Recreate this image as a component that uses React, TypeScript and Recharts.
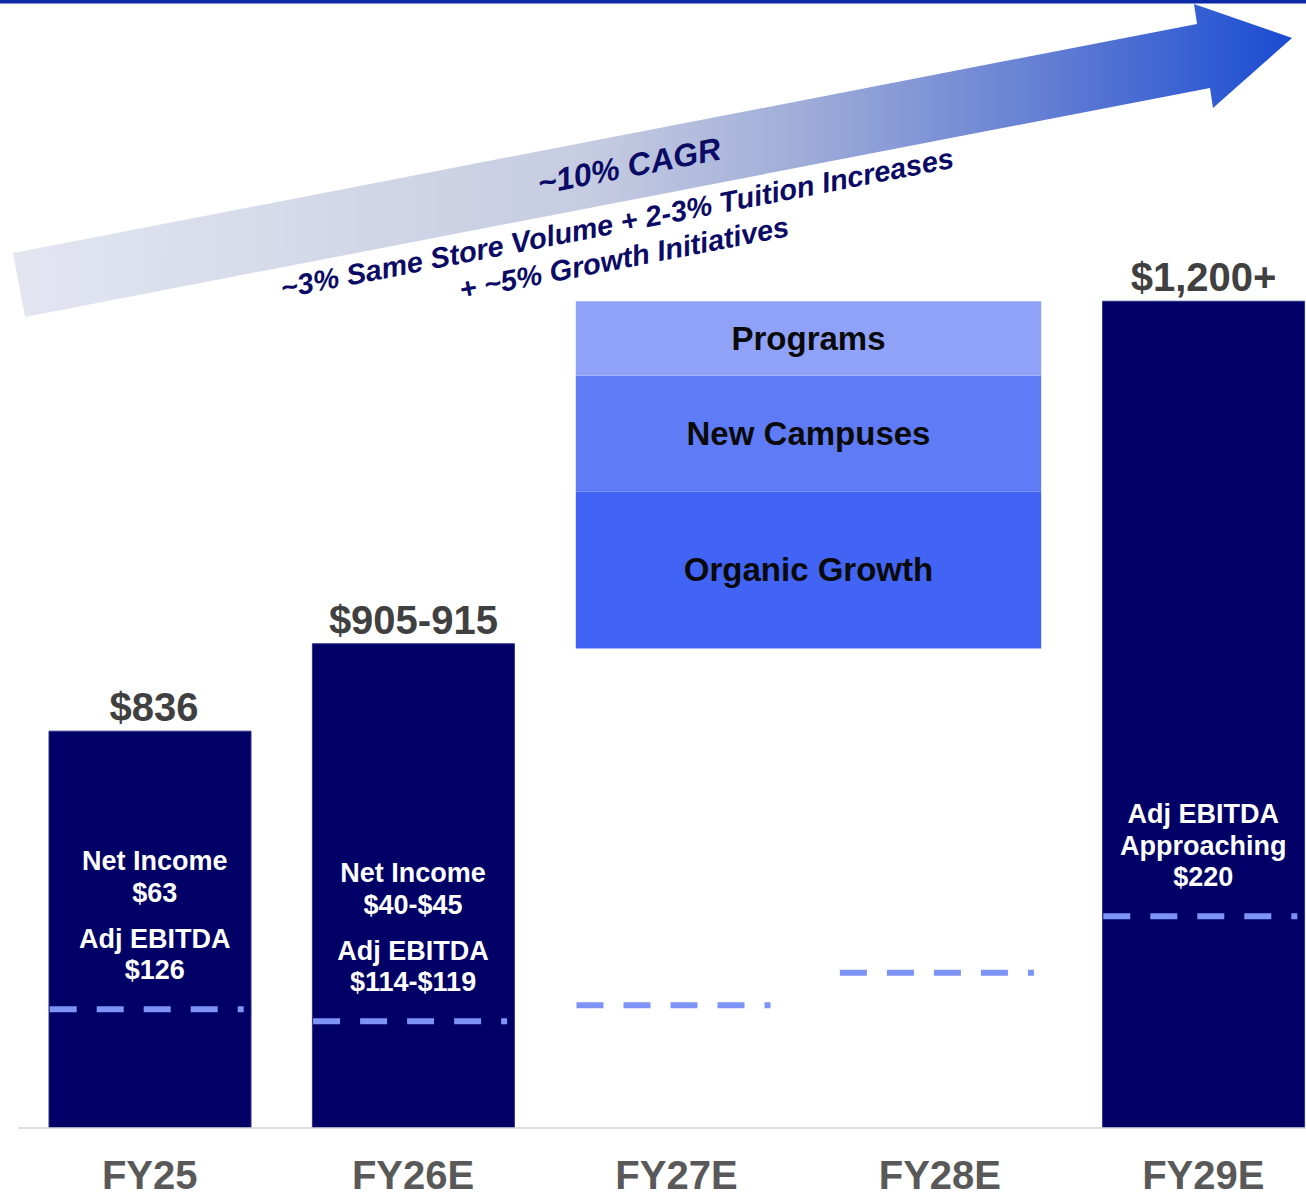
import {
  Bar,
  ComposedChart,
  Customized,
  LabelList,
  Line,
  XAxis,
  YAxis,
} from "recharts";

const categories = ["FY25", "FY26E", "FY27E", "FY28E", "FY29E"];
const revenue = [836, 910, null, null, 1200];
const revenueLabels = ["$836", "$905-915", "", "", "$1,200+"];

// FY27E-FY28E bridge (floating stack)
const bridgeBase = [null, null, 906, null, null];
const organicGrowth = [null, null, 133, null, null];
const newCampuses = [null, null, 98, null, null];
const programs = [null, null, 63, null, null];

// adj EBITDA marker levels (dashed lines)
const adjEbitda = [126, 114, 130, 163, 220];
const barNotes = [
  [["Net Income", "$63"], ["Adj EBITDA", "$126"]],
  [["Net Income", "$40-$45"], ["Adj EBITDA", "$114-$119"]],
  [],
  [],
  [["Adj EBITDA", "Approaching", "$220"]],
];

const data = categories.map((name, i) => ({
  name,
  revenue: revenue[i],
  label: revenueLabels[i],
  base: bridgeBase[i],
  organic: organicGrowth[i],
  campuses: newCampuses[i],
  programs: programs[i],
  ebitda: adjEbitda[i],
}));

const FONT = '"Liberation Sans", Arial, sans-serif';
const W = 1340;
const H = 1197;
const M = { top: 6, right: 5, left: 18, bottom: 9 };
const BAND = (W - M.left - M.right) / categories.length;
const BAR = 202;

const segment = (title: string, fill: string) => (p: any) => {
  if (!p.height || !p.width) return <g />;
  const w = p.width + BAND;
  return (
    <g>
      <rect x={p.x} y={p.y} width={w} height={p.height} fill={fill} />
      <text
        x={p.x + w / 2}
        y={p.y + p.height / 2}
        textAnchor="middle"
        dominantBaseline="central"
        fontFamily={FONT}
        fontWeight="bold"
        fontSize={33}
        fill="#0a0a0a"
      >
        {title}
      </text>
    </g>
  );
};

const EbitdaDash = (p: any) => {
  const { cx, cy, index } = p;
  if (cx == null || cy == null) return <g key={index} />;
  const groups = barNotes[index] || [];
  const rows: { t: string; y: number }[] = [];
  let y = cy - 39;
  for (let g = groups.length - 1; g >= 0; g--) {
    const lines = groups[g];
    for (let l = lines.length - 1; l >= 0; l--) {
      rows.push({ t: lines[l], y });
      y -= 31.5;
    }
    y -= 14.5;
  }
  return (
    <g key={index}>
      <line
        x1={cx - 100}
        x2={cx + 94}
        y1={cy}
        y2={cy}
        stroke="#7d93f5"
        strokeWidth={6}
        strokeDasharray="27 20"
      />
      {rows.map((r) => (
        <text
          key={r.t}
          x={cx + (index === 0 ? 5 : 0)}
          y={r.y}
          textAnchor="middle"
          dominantBaseline="central"
          fontFamily={FONT}
          fontWeight="bold"
          fontSize={27}
          fill="#ffffff"
        >
          {r.t}
        </text>
      ))}
    </g>
  );
};

const ArrowDecor = () => {
  const navy = "#0b0b66";
  return (
    <g>
      <defs>
        <linearGradient id="cagrGrad" gradientUnits="userSpaceOnUse" x1={12} y1={0} x2={1292} y2={0}>
          <stop offset="0" stopColor="#e3e6f1" />
          <stop offset="0.45" stopColor="#c6cce1" />
          <stop offset="0.62" stopColor="#9eacd8" />
          <stop offset="0.82" stopColor="#5f7bd3" />
          <stop offset="1" stopColor="#1a4cd2" />
        </linearGradient>
      </defs>
      <rect x={0} y={0} width={1306} height={3.5} fill="#0d2aa6" />
      <polygon
        points="13,253 1197,24 1194,4 1292,38 1213,108 1210,88 25,317"
        fill="url(#cagrGrad)"
      />
      <text
        x={629}
        y={166}
        textAnchor="middle"
        dominantBaseline="central"
        transform="rotate(-11 629 166)"
        fontFamily={FONT}
        fontWeight="bold"
        fontStyle="italic"
        fontSize={32}
        fill={navy}
      >
        ~10% CAGR
      </text>
      <text
        x={617}
        y={223}
        textAnchor="middle"
        dominantBaseline="central"
        transform="rotate(-11 617 223)"
        fontFamily={FONT}
        fontWeight="bold"
        fontStyle="italic"
        fontSize={29}
        fill={navy}
      >
        ~3% Same Store Volume + 2-3% Tuition Increases
      </text>
      <text
        x={624}
        y={258}
        textAnchor="middle"
        dominantBaseline="central"
        transform="rotate(-11 624 258)"
        fontFamily={FONT}
        fontWeight="bold"
        fontStyle="italic"
        fontSize={29}
        fill={navy}
      >
        + ~5% Growth Initiatives
      </text>
    </g>
  );
};

const Tick = (p: any) => (
  <text
    x={p.x}
    y={1189}
    textAnchor="middle"
    fontFamily={FONT}
    fontWeight="bold"
    fontSize={40}
    fill="#595959"
  >
    {p.payload.value}
  </text>
);

export default function App() {
  return (
    <div
      style={{
        position: "absolute",
        left: 0,
        top: 0,
        width: 1306,
        height: H,
        overflow: "hidden",
        background: "#fff",
      }}
    >
      <ComposedChart width={W} height={H} data={data} margin={M}>
        <XAxis
          dataKey="name"
          height={60}
          tickLine={false}
          tickSize={0}
          tick={<Tick />}
          axisLine={{ stroke: "#d4d4d4", strokeWidth: 1.5 }}
          interval={0}
        />
        <XAxis xAxisId="g" dataKey="name" hide />
        <YAxis domain={[500, 1450]} allowDataOverflow hide />
        <YAxis yAxisId="g" domain={[500, 1450]} allowDataOverflow hide />
        <YAxis yAxisId="e" domain={[6, 1140]} allowDataOverflow hide />

        <Customized component={<ArrowDecor />} />

        <Bar dataKey="revenue" barSize={BAR} fill="#000066" stroke="#2e2e86" isAnimationActive={false}>
          <LabelList
            dataKey="label"
            content={(p: any) =>
              p.value ? (
                <text
                  x={p.x + p.width / 2 + (p.index === 0 ? 4 : 0)}
                  y={p.y - 10}
                  textAnchor="middle"
                  fontFamily={FONT}
                  fontWeight="bold"
                  fontSize={40}
                  fill="#404040"
                >
                  {p.value}
                </text>
              ) : null
            }
          />
        </Bar>

        <Bar xAxisId="g" yAxisId="g" stackId="g" dataKey="base" barSize={BAR} fill="none" shape={() => <g />} isAnimationActive={false} />
        <Bar xAxisId="g" yAxisId="g" stackId="g" dataKey="organic" barSize={BAR} shape={segment("Organic Growth", "#4164f5")} isAnimationActive={false} />
        <Bar xAxisId="g" yAxisId="g" stackId="g" dataKey="campuses" barSize={BAR} shape={segment("New Campuses", "#5f7cf6")} isAnimationActive={false} />
        <Bar xAxisId="g" yAxisId="g" stackId="g" dataKey="programs" barSize={BAR} shape={segment("Programs", "#8fa2f8")} isAnimationActive={false} />

        <Line
          yAxisId="e"
          dataKey="ebitda"
          stroke="none"
          dot={EbitdaDash}
          activeDot={false}
          legendType="none"
          isAnimationActive={false}
        />
      </ComposedChart>
    </div>
  );
}
